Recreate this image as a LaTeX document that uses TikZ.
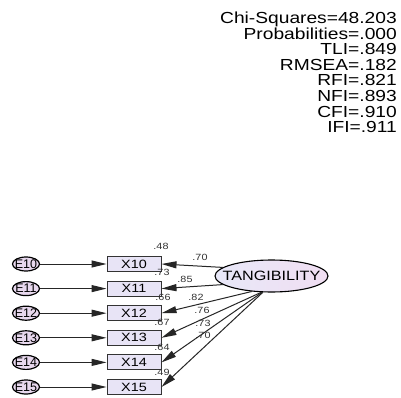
\documentclass[tikz,border=0pt]{standalone}
\usepackage{fontspec}
\usepackage{graphicx}
\setmainfont{Liberation Sans}
\usetikzlibrary{shapes.geometric,arrows.meta}
\definecolor{boxfill}{RGB}{232,228,246}
\definecolor{errfill}{RGB}{232,216,238}
\definecolor{latleft}{RGB}{232,232,248}
\definecolor{latright}{RGB}{240,222,242}
\newcommand{\wtxt}[1]{\scalebox{1.2}[1]{#1}}
\tikzset{
  errnode/.style={ellipse,draw,line width=1.2pt,fill=errfill,minimum width=27pt,
    minimum height=14pt,inner sep=0pt,inner xsep=-2pt,font=\fontsize{12.5}{12.5}\selectfont},
  obsbox/.style={rectangle,draw=black!80,line width=1pt,fill=boxfill,minimum width=54pt,
    minimum height=15pt,inner sep=0pt,font=\fontsize{12}{12}\selectfont},
  latent/.style={ellipse,draw,line width=1.1pt,left color=latleft,right color=latright,
    minimum width=113pt,minimum height=32pt,inner sep=0pt,inner xsep=-10pt,
    font=\fontsize{13.5}{13.5}\selectfont},
  regpath/.style={-{Triangle[length=15pt,width=7pt]},line width=1pt,draw=black!85},
  est/.style={inner sep=0pt,font=\fontsize{9}{9}\selectfont,text=black!80},
  fitstat/.style={inner sep=0pt,font=\fontsize{16}{16}\selectfont}
}
\begin{document}
\begin{tikzpicture}[x=1pt,y=-1pt]
  \useasboundingbox[fill=white] (0,0) rectangle (401,398);
  % fit statistics
  \foreach \txt [count=\i from 0] in {Chi-Squares=48.203,Probabilities=.000,TLI=.849,
      RMSEA=.182,RFI=.821,NFI=.893,CFI=.910,IFI=.911}
    \node[fitstat,anchor=base east] (fit\i) at (397,23.5+15.6*\i) {\wtxt{\txt}};
  % latent variable
  \node[latent] (tang) at (271.5,276) {\wtxt{TANGIBILITY}};
  % indicators and errors
  \foreach \n/\y in {10/264,11/288.6,12/313.2,13/337.8,14/362.4,15/387} {
    \node[errnode] (e\n) at (26,\y) {E\n};
    \node[obsbox] (x\n) at (134,\y) {\wtxt{X\n}};
    \draw[regpath] (e\n) -- (x\n);
  }
  % loadings
  \draw[regpath] (tang.170) -- (x10.east);
  \draw[regpath] (tang.190) -- (x11.east);
  \draw[regpath] (tang.218) -- (x12.east);
  \draw[regpath] (tang.238) -- (x13.east);
  \draw[regpath] (tang.240) -- (x14.east);
  \draw[regpath] (tang.242) -- (x15.east);
  % standardized weights
  \node[est] (w10) at (200,257) {\wtxt{.70}};
  \node[est] (w11) at (185,279) {\wtxt{.85}};
  \node[est] (w12) at (196,297) {\wtxt{.82}};
  \node[est] (w13) at (202,310) {\wtxt{.76}};
  \node[est] (w14) at (203,323) {\wtxt{.73}};
  \node[est] (w15) at (203,335) {\wtxt{.70}};
  % squared multiple correlations
  \node[est] (r10) at (161,246) {\wtxt{.48}};
  \node[est] (r11) at (162,272) {\wtxt{.73}};
  \node[est] (r12) at (163,297) {\wtxt{.66}};
  \node[est] (r13) at (162,322) {\wtxt{.67}};
  \node[est] (r14) at (162,347) {\wtxt{.64}};
  \node[est] (r15) at (162,372) {\wtxt{.49}};
\end{tikzpicture}
\end{document}
